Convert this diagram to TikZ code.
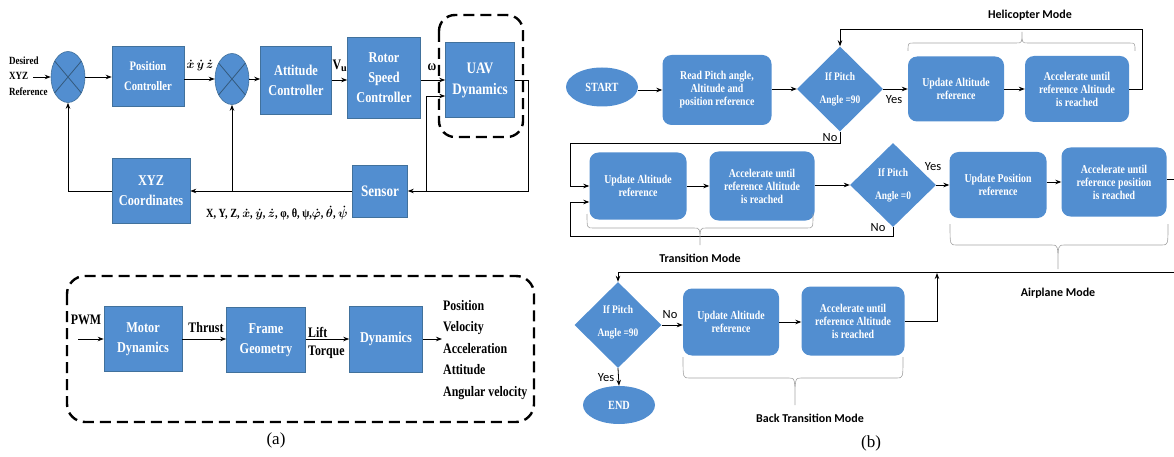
\documentclass[tikz,border=0pt]{standalone}
\usepackage{amsmath}
\usepackage{fontspec}
\setmainfont{Liberation Serif}
\newfontfamily\condf[FakeStretch=0.82]{Liberation Serif}
\newfontfamily\calib{Carlito}
\usetikzlibrary{arrows.meta,shapes.geometric,calc}
\definecolor{boxblue}{RGB}{82,142,208}
\definecolor{boxedge}{RGB}{65,113,156}
\definecolor{bracegray}{RGB}{165,165,165}
% brace: x1, x2, xmid, y of ends, y of bar, y of tip
\newcommand\mybrace[6]{%
\draw[brc] (#1,#4) .. controls (#1,#5) .. (#1+6,#5) -- (#3-6,#5) .. controls (#3,#5) .. (#3,#6)
  .. controls (#3,#5) .. (#3+6,#5) -- (#2-6,#5) .. controls (#2,#5) .. (#2,#4);}
\begin{document}
\begin{tikzpicture}[x=1pt,y=-1pt,
 arr/.style={-{Stealth[length=6pt,width=4.5pt]}, line width=0.8pt},
 ln/.style={line width=0.8pt},
 blk/.style={draw=boxedge, line width=0.6pt, fill=boxblue, text=white, align=center, inner sep=0pt, font=\condf\bfseries\fontsize{15}{20}\selectfont},
 sumc/.style={ellipse, draw=boxedge, line width=0.6pt, fill=boxblue, minimum width=34pt, minimum height=51pt, inner sep=0pt},
 lbl/.style={font=\condf\bfseries\fontsize{14.5}{21.5}\selectfont, inner sep=0pt},
 dashbox/.style={draw, line width=2.4pt, dash pattern=on 11pt off 6pt, rounded corners=16pt},
 rbox/.style={rounded corners=9pt, fill=boxblue, text=white, align=center, inner sep=0pt, font=\condf\bfseries\fontsize{12}{13}\selectfont},
 term/.style={ellipse, fill=boxblue, text=white, inner sep=0pt, minimum width=72pt, minimum height=39pt, font=\condf\bfseries\fontsize{12.5}{14}\selectfont},
 dia/.style={diamond, fill=boxblue, minimum width=86pt, minimum height=85pt, inner sep=0pt},
 diatext/.style={text=white, align=center, inner sep=0pt, font=\condf\bfseries\fontsize{11.5}{13}\selectfont},
 yn/.style={font=\calib\fontsize{12.5}{14}\selectfont, inner sep=0pt},
 modelbl/.style={font=\calib\bfseries\fontsize{12}{14}\selectfont, inner sep=0pt},
 brc/.style={draw=bracegray, line width=0.6pt},
]
\useasboundingbox (0,0) rectangle (1174,457);

% ---------------- (a) top ----------------
\node[font=\condf\bfseries\fontsize{11}{15.5}\selectfont, align=left, anchor=west, inner sep=0pt] (des) at (9,76) {Desired\\XYZ\\Reference};
\coordinate (desA) at (33,77);
\node[sumc] (s1) at (68,77) {};
\draw[ln, draw=boxedge!80!black] (s1.50) -- (s1.230) (s1.130) -- (s1.310);
\node[blk, minimum width=72pt, minimum height=60pt, font=\condf\bfseries\fontsize{13}{20}\selectfont] (pc) at (148,76) {Position\\Controller};
\draw[arr] (desA) -- (s1.west);
\draw[arr] (s1.east) -- (s1.east -| pc.west);

\node[sumc] (s2) at (232,79) {};
\draw[ln, draw=boxedge!80!black] (s2.50) -- (s2.230) (s2.130) -- (s2.310);
\draw[arr] (pc.east |- s2.west) -- (s2.west);
\node[lbl, font=\condf\bfseries\fontsize{12}{14}\selectfont] (xyzdot) at (200,66) {$\boldsymbol{\dot{x}}\,\boldsymbol{\dot{y}}\,\boldsymbol{\dot{z}}$};

\node[blk, minimum width=71pt, minimum height=68pt] (att) at (296,80) {Attitude\\Controller};
\draw[arr] (s2.east) -- (s2.east -| att.west);
\node[blk, minimum width=73pt, minimum height=81pt] (rot) at (384,78) {Rotor\\Speed\\Controller};
\draw[arr] (att.east) -- (att.east -| rot.west);
\node[lbl] (vu) at (340,66) {V$_{\mathbf{u}}$};
\node[blk, minimum width=69pt, minimum height=75pt, font=\condf\bfseries\fontsize{16}{21}\selectfont] (uav) at (480,80) {UAV\\Dynamics};
\draw[arr] (rot.east |- uav.west) -- (uav.west);
\node[lbl] (om) at (432,67) {ω};
\draw[dashbox] (439,15) rectangle (523,137);

\node[blk, minimum width=55pt, minimum height=52pt, font=\condf\bfseries\fontsize{16}{21}\selectfont] (sen) at (380,191) {Sensor};
\node[blk, minimum width=78pt, minimum height=65pt] (xyz) at (151,191) {XYZ\\Coordinates};
\coordinate (rt) at (528,191);
\draw[arr] (uav.east) -| (rt) -- (sen.east);
\coordinate (j1) at (426,191);
\coordinate (uin) at ($(uav.west)+(0,16)$);
\draw[arr] (j1) |- (uin);
\draw[arr] (sen.west) -- (xyz.east);
\draw[arr] (s2 |- sen.west) -- (s2.south);
\draw[arr] (xyz.west) -| (s1.south);
\node[lbl, font=\condf\bfseries\fontsize{12.5}{16}\selectfont] (fb) at (277,213) {X, Y, Z, $\boldsymbol{\dot{x}}$, $\boldsymbol{\dot{y}}$, $\boldsymbol{\dot{z}}$, φ, θ, ψ,$\boldsymbol{\dot{\varphi}}$, $\boldsymbol{\dot{\theta}}$, $\boldsymbol{\dot{\psi}}$};

% ---------------- (a) bottom ----------------
\draw[dashbox, rounded corners=18pt] (67,276) rectangle (534,422);
\node[blk, minimum width=78pt, minimum height=65pt] (md) at (143,339) {Motor\\Dynamics};
\node[blk, minimum width=79pt, minimum height=65pt] (fg) at (266,340) {Frame\\Geometry};
\node[blk, minimum width=73pt, minimum height=66pt] (dyn) at (386,339) {Dynamics};
\node[lbl] (pwm) at (86,320) {PWM};
\coordinate (pwmA) at (78,339);
\draw[arr] (pwmA) -- (md.west);
\node[lbl] (thr) at (206,328) {Thrust};
\draw[arr] (md.east) -- (md.east -| fg.west);
\node[lbl, anchor=west] (lift) at (308,332) {Lift};
\node[lbl, anchor=west] (torq) at (308,352) {Torque};
\draw[arr] (fg.east |- dyn.west) -- (dyn.west);
\coordinate (outA) at (442,339);
\draw[arr] (dyn.east) -- (outA);
\node[lbl, anchor=west, align=left] (outs) at (443,350) {Position\\Velocity\\Acceleration\\Attitude\\Angular velocity};
\node[font=\fontsize{17}{20}\selectfont, inner sep=0pt] (capa) at (276,440) {(a)};

% ---------------- (b) ----------------
\node[term] (start) at (602,87) {START};
\node[rbox, minimum width=109pt, minimum height=70pt] (read) at (717,90) {Read Pitch angle,\\Altitude and\\position reference};
\draw[arr] (start.east |- read.west) -- (read.west);
\node[dia] (d1) at (840,89) {};
\node[diatext] (d1t) at (d1) {If Pitch\\[10pt]Angle =90};
\draw[arr] (read.east |- d1.west) -- (d1.west);
\node[rbox, minimum width=96pt, minimum height=65pt] (h1) at (956,89) {Update Altitude\\reference};
\node[rbox, minimum width=104pt, minimum height=66pt] (h2) at (1077,89) {Accelerate until\\reference Altitude\\is reached};
\draw[arr] (d1.east) -- (h1.west);
\node[yn] (y1) at (894,100) {Yes};
\draw[arr] (h1.east) -- (h2.west);
\coordinate (lt) at (1142,29);
\draw[arr] (h2.east) -| (lt) -| (d1.north);
\mybrace{908}{1135}{1022}{51}{43}{32}
\node[modelbl] (heli) at (1030,15) {Helicopter Mode};

\node[rbox, minimum width=97pt, minimum height=67pt] (t1) at (638,186) {Update Altitude\\reference};
\node[rbox, minimum width=105pt, minimum height=69pt] (t2) at (762,186) {Accelerate until\\reference Altitude\\is reached};
\coordinate (n1) at (570,143);
\draw[arr] (d1.south) |- (n1) |- (t1.west);
\node[yn] (no1) at (830,138) {No};
\draw[arr] (t1.east) -- (t2.west);
\node[dia, minimum height=84pt] (d2) at (893,185) {};
\node[diatext] (d2t) at (d2) {If Pitch\\[10pt]Angle =0};
\draw[arr] (t2.east |- d2.west) -- (d2.west);
\coordinate (n2) at (570,236);
\coordinate (t1b) at ($(t1.west)+(0,16)$);
\draw[arr] (d2.south) |- (n2) |- (t1b);
\node[yn] (no2) at (878,228) {No};
\mybrace{587}{813}{700}{214}{228}{245}
\node[modelbl] (trans) at (700,258) {Transition Mode};

\node[rbox, minimum width=97pt, minimum height=66pt] (a1) at (998,185) {Update Position\\reference};
\node[rbox, minimum width=105pt, minimum height=69pt] (a2) at (1114,182) {Accelerate until\\reference position\\is reached};
\draw[arr] (d2.east) -- (a1.west);
\node[yn] (y2) at (933,167) {Yes};
\draw[arr] (a1.east |- a2.west) -- (a2.west);
\coordinate (re1) at (1174,179);
\draw[ln] (a2.east |- re1) -- (re1);
\mybrace{950}{1168}{1058}{224}{245}{269}
\node[modelbl] (plane) at (1058,293) {Airplane Mode};

\node[dia, minimum width=87pt, minimum height=86pt] (d3) at (618,325) {};
\node[diatext] (d3t) at ($(d3)+(0,-3)$) {If Pitch\\[10pt]Angle =90};
\coordinate (re2) at (1174,272);
\draw[arr] (re2) -| (d3.north);
\node[rbox, minimum width=96pt, minimum height=67pt] (b1) at (731,322) {Update Altitude\\reference};
\node[rbox, minimum width=103pt, minimum height=69pt] (b2) at (853,321) {Accelerate until\\reference Altitude\\is reached};
\draw[arr] (d3.east) -- (d3.east -| b1.west);
\node[yn] (no3) at (670,315) {No};
\draw[arr] (b1.east) -- (b1.east -| b2.west);
\coordinate (up) at (937,273);
\draw[arr] (b2.east) -| (up);
\node[term, minimum height=38pt] (end) at (619,405) {END};
\draw[arr] (d3.south) -- (end.north);
\node[yn] (y3) at (606,378) {Yes};
\mybrace{683}{903}{795}{357}{378}{405}
\node[modelbl] (back) at (810,418) {Back Transition Mode};
\node[font=\fontsize{17}{20}\selectfont, inner sep=0pt] (capb) at (871,443) {(b)};
\end{tikzpicture}
\end{document}
